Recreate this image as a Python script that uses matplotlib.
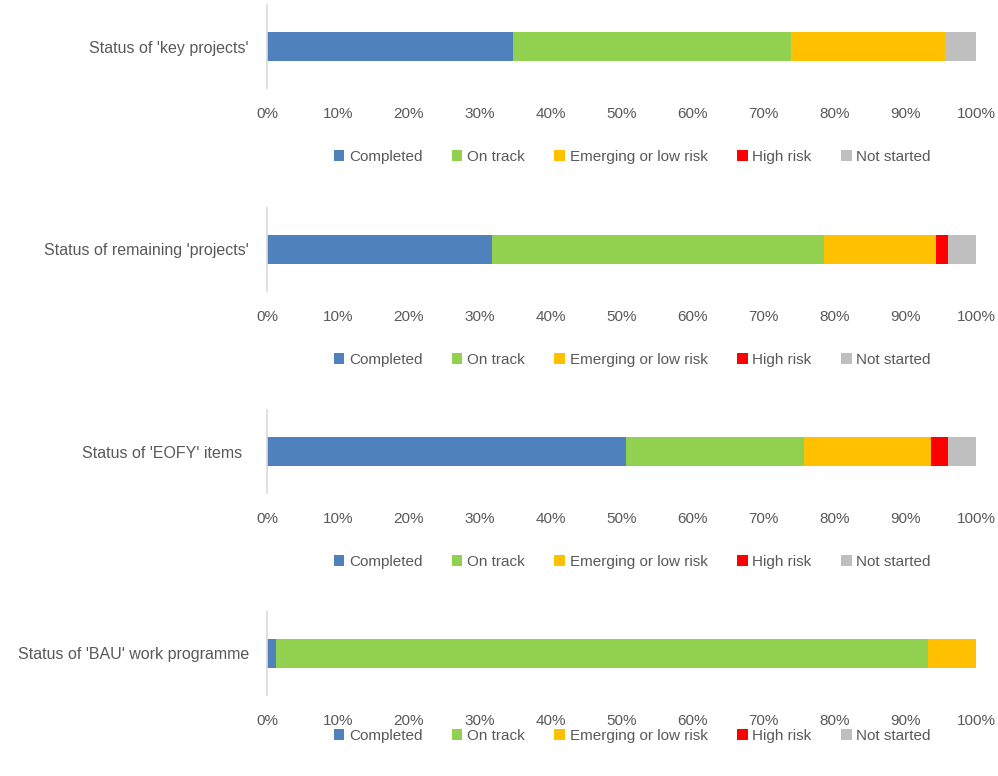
import matplotlib
matplotlib.use("Agg")
import matplotlib.pyplot as plt
from matplotlib.patches import Patch
from matplotlib.ticker import PercentFormatter

# data (percent of items per status)
panels = ["Status of 'key projects'", "Status of remaining 'projects'",
          "Status of 'EOFY' items", "Status of 'BAU' work programme"]
statuses = ["Completed", "On track", "Emerging or low risk", "High risk", "Not started"]
completed = [34.7, 31.7, 50.6, 1.3]
on_track = [39.2, 46.8, 25.2, 92.0]
emerging = [21.7, 15.8, 17.8, 6.7]
high_risk = [0.0, 1.8, 2.5, 0.0]
not_started = [4.4, 3.9, 3.9, 0.0]

colors = ["#4F81BD", "#92D050", "#FFC000", "#FF0000", "#BFBFBF"]
text_col = "#595959"
plt.rcParams['font.family'] = ['Liberation Sans', 'DejaVu Sans']

fig = plt.figure(figsize=(9.98, 7.76), dpi=100)
W, H = 998, 776
tops = [5, 208, 410, 612]
legend_gap = [44, 44, 44, 16]
label_pad = [13, 13, 18, 13]

series = [completed, on_track, emerging, high_risk, not_started]
for i, name in enumerate(panels):
    ax = fig.add_axes([267 / W, 1 - (tops[i] + 83) / H, 709 / W, 83 / H])
    left = 0
    for s, col in zip(series, colors):
        ax.barh([name], [s[i]], left=left, height=0.34, color=col)
        left += s[i]
    ax.set_xlim(0, 100)
    ax.set_ylim(-0.5, 0.5)
    ax.set_xticks(range(0, 101, 10))
    ax.xaxis.set_major_formatter(PercentFormatter(decimals=0))
    for sp in ["top", "right", "bottom"]:
        ax.spines[sp].set_visible(False)
    ax.spines["left"].set_color("#D9D9D9")
    ax.spines["left"].set_linewidth(1.2)
    ax.tick_params(axis="x", length=0, pad=14, labelsize=11, labelcolor=text_col)
    ax.tick_params(axis="y", length=0, pad=label_pad[i], labelsize=11.5, labelcolor=text_col)

    handles = [Patch(facecolor=c, label=l) for c, l in zip(colors, statuses)]
    ly = -(24 + legend_gap[i] + 1) / 83
    ax.legend(handles=handles, loc="center", bbox_to_anchor=(0.515, ly), ncol=5,
              frameon=False, fontsize=11, labelcolor=text_col, handlelength=0.7,
              handleheight=0.7, handletextpad=0.3, columnspacing=1.93)

fig.savefig("out.png", dpi=100)
